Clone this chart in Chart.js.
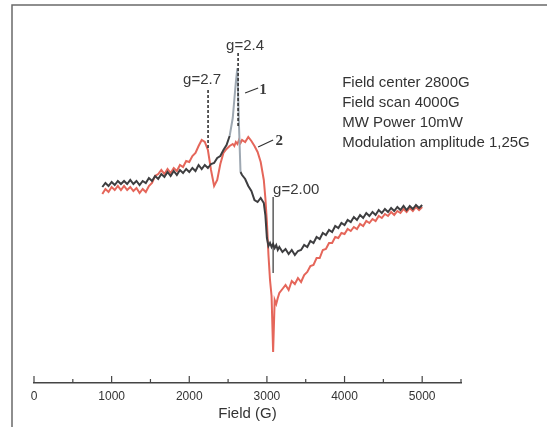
<!DOCTYPE html>
<html>
<head>
<meta charset="utf-8">
<script src="https://cdn.jsdelivr.net/npm/chart.js@4.4.0/dist/chart.umd.min.js"></script>
<style>
html,body{margin:0;padding:0;background:#fff;}
#wrap{position:relative;width:547px;height:427px;}
</style>
</head>
<body>
<div id="wrap"><canvas id="c" width="547" height="427"></canvas></div>
<script>
// Magnetic field (G)
const fields = [880,920,960,1000,1040,1080,1120,1160,1200,1240,1280,1320,1360,1400,1440,1480,1520,1560,1600,1640,1680,1720,1760,1800,1840,1880,1920,1960,2000,2040,2080,2120,2160,2200,2240,2280,2320,2360,2400,2440,2480,2520,2560,2580,2600,2620,2640,2660,2680,2720,2760,2800,2840,2880,2920,2960,2980,3000,3020,3040,3060,3080,3100,3120,3140,3160,3200,3240,3280,3320,3360,3400,3440,3480,3520,3560,3600,3640,3680,3720,3760,3800,3840,3880,3920,3960,4000,4040,4080,4120,4160,4200,4240,4280,4320,4360,4400,4440,4480,4520,4560,4600,4640,4680,4720,4760,4800,4840,4880,4920,4960,5000];
// EPR signal, spectrum 1 (arbitrary units)
const curve1 = [196,200,197,201,198,202,199,202,199,203,199,202,198,202,200,205,202,207,204,209,206,211,207,212,208,213,210,214,211,215,212,218,214,218,215,219,220,225,227,233,238,247,265,283,301,315,258,211,208,204,197,192,183,181,185,180,168,145,137,140,136,139,135,138,133,136,131,134,129,133,128,132,133,138,136,142,140,146,144,150,148,153,151,157,155,160,158,163,161,166,163,168,165,170,167,171,168,173,170,174,171,175,172,176,173,177,173,177,174,178,175,178];
// EPR signal, spectrum 2 (arbitrary units)
const curve2 = [189,194,191,196,193,197,193,197,193,196,192,195,190,194,191,197,200,207,209,213,209,214,210,215,212,218,216,222,221,227,230,237,243,241,233,213,197,203,219,230,234,237,239,237,241,239,243,240,243,241,246,242,237,231,221,203,185,161,128,103,87,31,83,79,85,90,94,98,93,102,99,105,101,108,111,117,118,125,125,133,134,140,140,146,145,150,149,154,152,156,154,159,157,162,160,164,162,167,165,169,167,171,168,172,170,174,171,175,172,176,173,176];
const seriesNames = ['1','2'];
const xTickValues = [0,1000,2000,3000,4000,5000];
const axisTitle = 'Field (G)';
const infoLines = ['Field center 2800G','Field scan 4000G','MW Power 10mW','Modulation amplitude 1,25G'];
// annotations in data coordinates
const gMarks = [
  {label:'g=2.7', field:2242, from:293, to:233, tx:2165, ty:303, dash:true},
  {label:'g=2.4', field:2629, from:330, to:256, tx:2719, ty:337, dash:true},
  {label:'g=2.00', field:3080, from:186, to:110, tx:3080, ty:193, dash:false}
];
const curveLabels = [
  {label:'1', x0:2719, y0:290, x1:2887, y1:295, tx:2950, ty:293},
  {label:'2', x0:2887, y0:236, x1:3080, y1:243, tx:3160, ty:242}
];
const infoPos = {field:3969, top:300, step:20};

const DARK = '#3e3e40';
const RED = '#e5665a';

const decor = {
  id:'decor',
  beforeDraw(chart){
    const ctx = chart.ctx;
    ctx.save();
    ctx.fillStyle = '#fff';
    ctx.fillRect(0,0,chart.width,chart.height);
    ctx.strokeStyle = '#6a6a6a';
    ctx.lineWidth = 1.5;
    ctx.beginPath();
    ctx.moveTo(12, chart.height);
    ctx.lineTo(12, 5);
    ctx.lineTo(chart.width, 5);
    ctx.stroke();
    ctx.restore();
  },
  afterDraw(chart){
    const ctx = chart.ctx;
    const xs = chart.scales.x, ys = chart.scales.y;
    ctx.save();
    // upward tick marks
    ctx.strokeStyle = '#444';
    ctx.lineWidth = 1.2;
    xs.ticks.forEach((t,i)=>{
      const px = xs.getPixelForTick(i);
      const len = (t.value % 1000 === 0) ? 7 : 4;
      ctx.beginPath();
      ctx.moveTo(px, xs.top);
      ctx.lineTo(px, xs.top - len);
      ctx.stroke();
    });
    // g markers
    ctx.fillStyle = '#3a3a3a';
    ctx.textBaseline = 'middle';
    gMarks.forEach(m=>{
      const px = xs.getPixelForValue(m.field);
      ctx.beginPath();
      ctx.setLineDash(m.dash ? [3,2] : []);
      ctx.lineWidth = m.dash ? 1.6 : 1.2;
      ctx.strokeStyle = '#333';
      ctx.moveTo(px, ys.getPixelForValue(m.from));
      ctx.lineTo(px, ys.getPixelForValue(m.to));
      ctx.stroke();
      ctx.setLineDash([]);
      ctx.font = '15px "Liberation Sans", Arial, sans-serif';
      ctx.textAlign = m.dash ? 'center' : 'left';
      ctx.fillText(m.label, xs.getPixelForValue(m.tx), ys.getPixelForValue(m.ty));
    });
    // curve labels
    curveLabels.forEach(c=>{
      ctx.beginPath();
      ctx.lineWidth = 1.2;
      ctx.strokeStyle = '#333';
      ctx.moveTo(xs.getPixelForValue(c.x0), ys.getPixelForValue(c.y0));
      ctx.lineTo(xs.getPixelForValue(c.x1), ys.getPixelForValue(c.y1));
      ctx.stroke();
      ctx.font = 'bold 15px "Liberation Serif", "Times New Roman", serif';
      ctx.textAlign = 'center';
      ctx.fillText(c.label, xs.getPixelForValue(c.tx), ys.getPixelForValue(c.ty));
    });
    // info text
    ctx.font = '15px "Liberation Sans", Arial, sans-serif';
    ctx.textAlign = 'left';
    ctx.fillStyle = '#333';
    infoLines.forEach((s,i)=>{
      ctx.fillText(s, xs.getPixelForValue(infoPos.field), ys.getPixelForValue(infoPos.top - i*infoPos.step));
    });
    ctx.restore();
  }
};

new Chart(document.getElementById('c'), {
  type:'line',
  data:{
    labels: fields,
    datasets:[
      {label:seriesNames[0], data: fields.map((f,i)=>({x:f,y:curve1[i]})), borderColor:DARK, borderWidth:2, pointRadius:0, tension:0,
       segment:{borderColor: c => (c.p0.parsed.y > 255 || c.p1.parsed.y > 255) ? '#9ea8b2' : undefined}},
      {label:seriesNames[1], data: fields.map((f,i)=>({x:f,y:curve2[i]})), borderColor:RED, borderWidth:2, pointRadius:0, tension:0}
    ]
  },
  options:{
    responsive:false,
    animation:false,
    events:[],
    layout:{padding:{left:34,right:86,top:20,bottom:0}},
    plugins:{legend:{display:false},tooltip:{enabled:false}},
    scales:{
      x:{
        type:'linear', min:0, max:5500,
        afterFit: s => { s.height = 44; },
        grid:{display:true, drawOnChartArea:false, drawTicks:false},
        border:{display:true, color:'#444', width:1.5},
        ticks:{stepSize:500, autoSkip:false, maxRotation:0, padding:6, color:'#333',
               font:{family:'"Liberation Sans", Arial, sans-serif', size:12},
               callback: v => xTickValues.includes(v) ? String(v) : ''},
        title:{display:true, text:axisTitle, color:'#333', padding:{top:0,bottom:4},
               font:{family:'"Liberation Sans", Arial, sans-serif', size:15}}
      },
      y:{type:'linear', min:0, max:363, display:false}
    }
  },
  plugins:[decor]
});
</script>
</body>
</html>
